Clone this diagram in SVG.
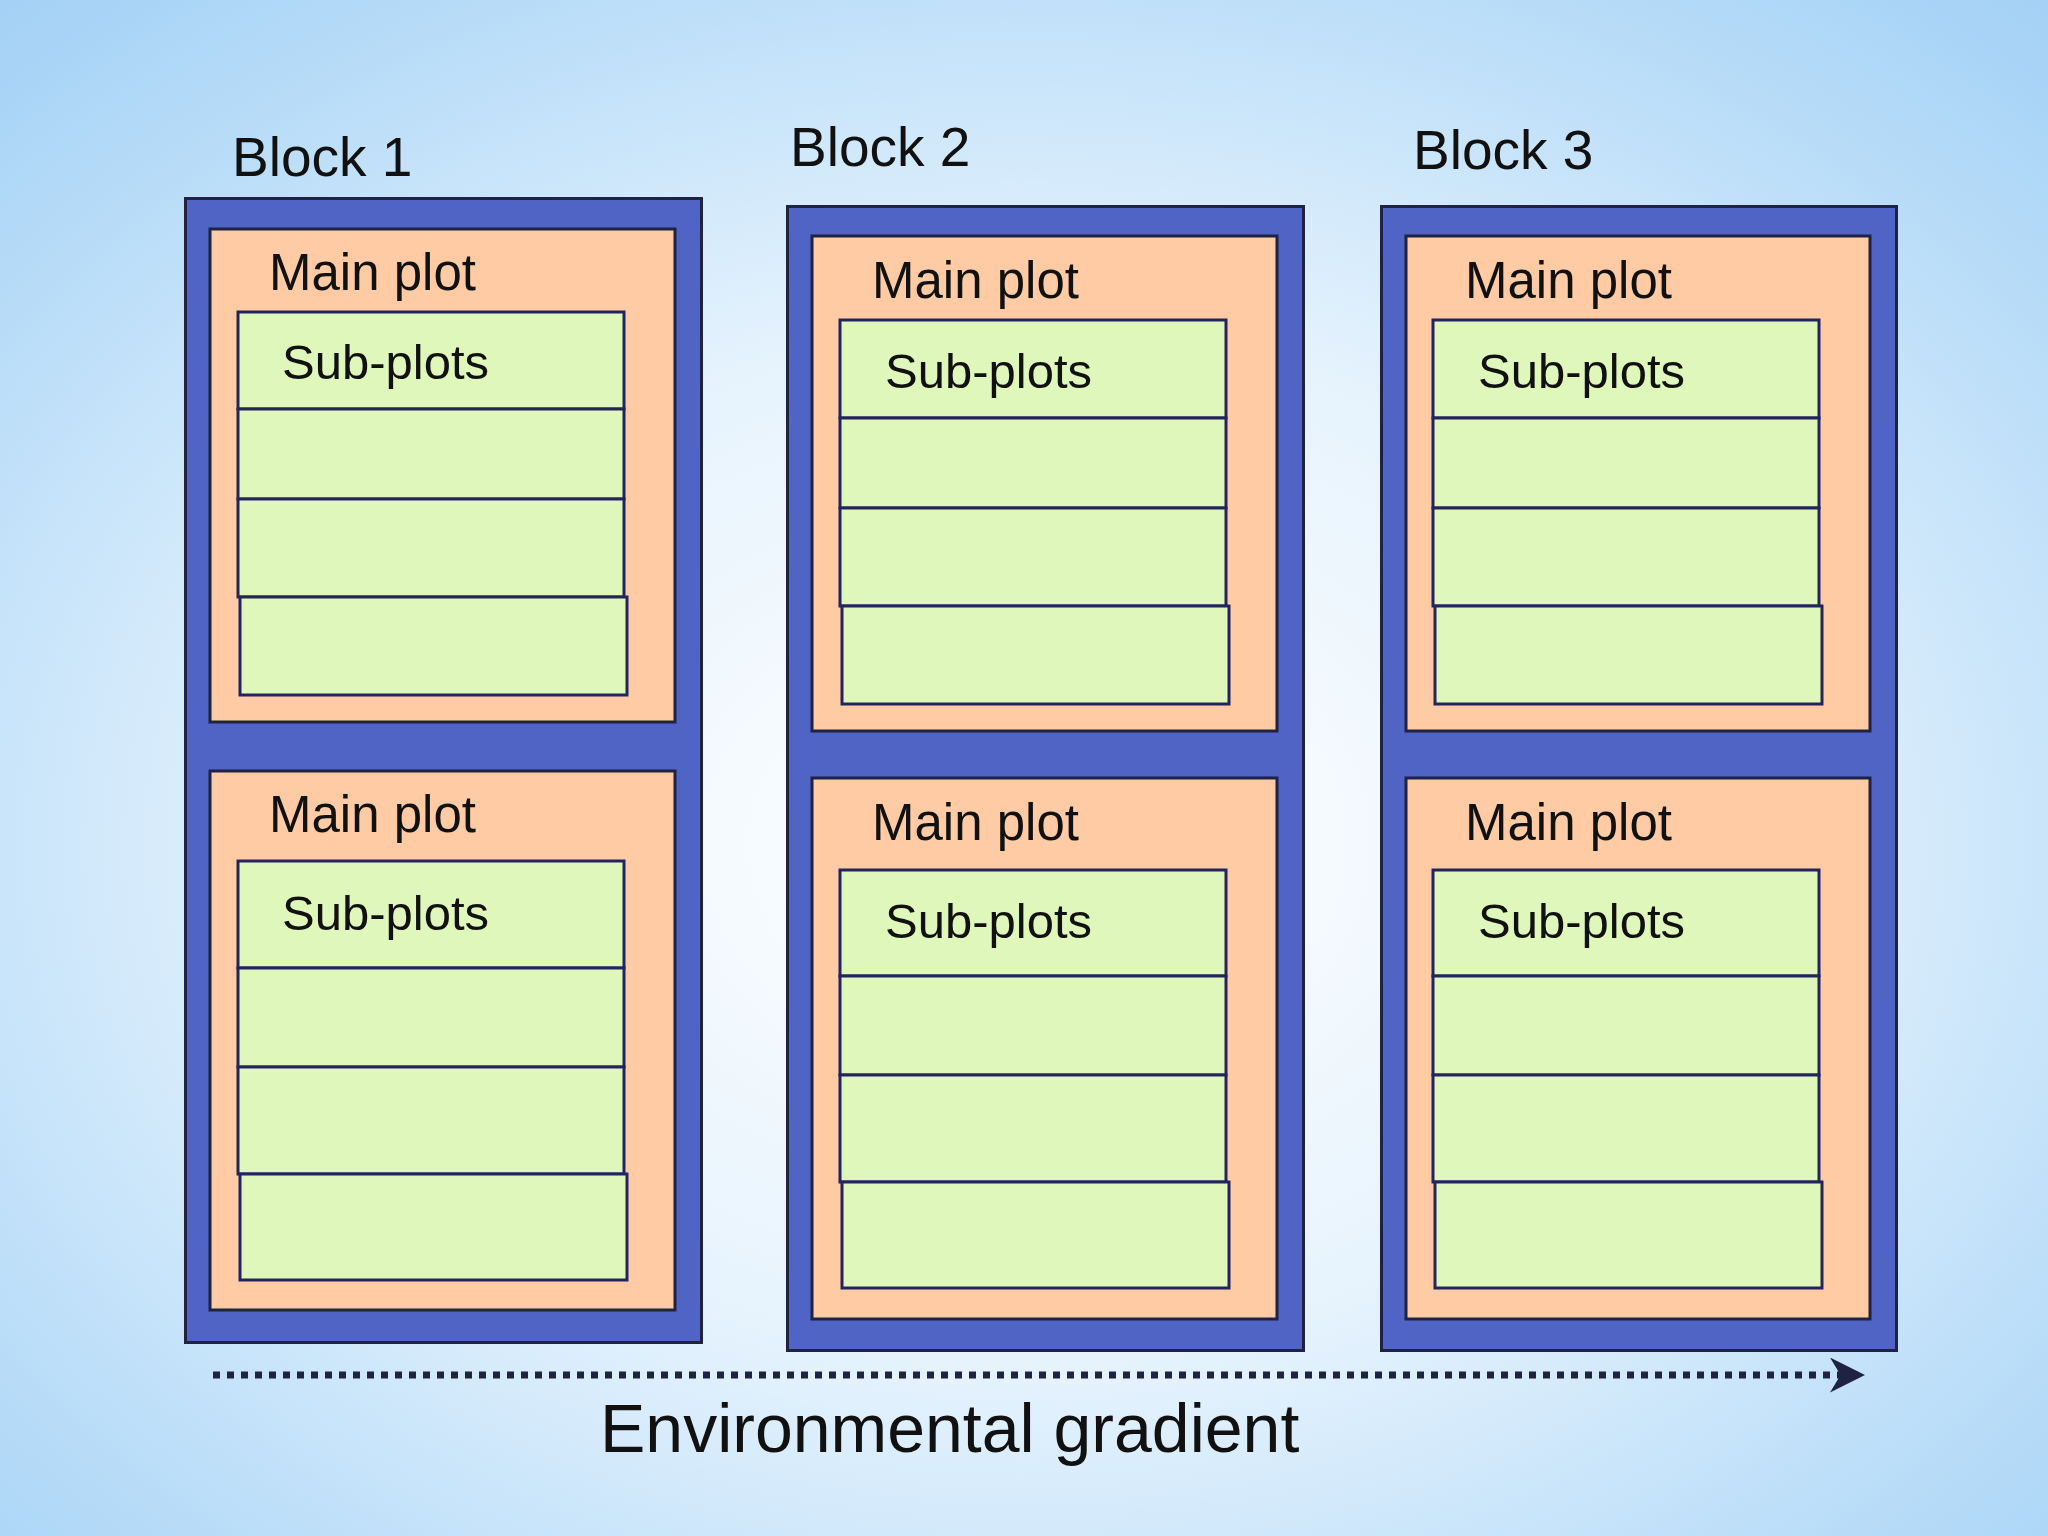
<svg xmlns="http://www.w3.org/2000/svg" width="2048" height="1536" viewBox="0 0 2048 1536">
<defs>
<radialGradient id="bg" cx="0.5" cy="0.55" r="0.75">
<stop offset="0" stop-color="#ffffff"/>
<stop offset="0.45" stop-color="#e6f3fd"/>
<stop offset="0.8" stop-color="#b8dcf8"/>
<stop offset="1" stop-color="#a2d0f5"/>
</radialGradient>
<marker id="ah" viewBox="0 0 10 10" refX="8" refY="5" markerWidth="5" markerHeight="5" orient="auto" markerUnits="strokeWidth">
<path d="M0,0 L10,5 L0,10 L3,5 Z" fill="#1f2240"/>
</marker>
<style>
.blk{fill:#4f64c4;stroke:#1f2240;stroke-width:3}
.mp{fill:#ffcba4;stroke:#1f2240;stroke-width:3}
.sp{fill:#e0f7bb;stroke:#23245e;stroke-width:3}
.t{font-family:"Liberation Sans",Arial,sans-serif;fill:#111}
.bt{font-size:55px}.mt{font-size:51px}.st{font-size:49px}
</style>
</defs>
<rect width="2048" height="1536" fill="url(#bg)"/>
<g id="block1">
<rect class="blk" x="185.5" y="198.5" width="516" height="1144"/>
<text class="t bt" x="232" y="176">Block 1</text>
<rect class="mp" x="210" y="229" width="465" height="493"/>
<text class="t mt" x="269" y="290">Main plot</text>
<rect class="sp" x="238" y="312" width="386" height="97"/>
<rect class="sp" x="238" y="409" width="386" height="90"/>
<rect class="sp" x="238" y="499" width="386" height="98"/>
<rect class="sp" x="240" y="597" width="387" height="98"/>
<text class="t st" x="282" y="379">Sub-plots</text>
<rect class="mp" x="210" y="771" width="465" height="539"/>
<text class="t mt" x="269" y="832">Main plot</text>
<rect class="sp" x="238" y="861" width="386" height="107"/>
<rect class="sp" x="238" y="968" width="386" height="99"/>
<rect class="sp" x="238" y="1067" width="386" height="107"/>
<rect class="sp" x="240" y="1174" width="387" height="106"/>
<text class="t st" x="282" y="930">Sub-plots</text>
</g>
<g id="block2">
<rect class="blk" x="787.5" y="206.5" width="516" height="1144"/>
<text class="t bt" x="790" y="166">Block 2</text>
<rect class="mp" x="812" y="236" width="465" height="495"/>
<text class="t mt" x="872" y="298">Main plot</text>
<rect class="sp" x="840" y="320" width="386" height="98"/>
<rect class="sp" x="840" y="418" width="386" height="90"/>
<rect class="sp" x="840" y="508" width="386" height="98"/>
<rect class="sp" x="842" y="606" width="387" height="98"/>
<text class="t st" x="885" y="388">Sub-plots</text>
<rect class="mp" x="812" y="778" width="465" height="541"/>
<text class="t mt" x="872" y="840">Main plot</text>
<rect class="sp" x="840" y="870" width="386" height="106"/>
<rect class="sp" x="840" y="976" width="386" height="99"/>
<rect class="sp" x="840" y="1075" width="386" height="107"/>
<rect class="sp" x="842" y="1182" width="387" height="106"/>
<text class="t st" x="885" y="938">Sub-plots</text>
</g>
<g id="block3">
<rect class="blk" x="1381.5" y="206.5" width="515" height="1144"/>
<text class="t bt" x="1413" y="169">Block 3</text>
<rect class="mp" x="1406" y="236" width="464" height="495"/>
<text class="t mt" x="1465" y="298">Main plot</text>
<rect class="sp" x="1433" y="320" width="386" height="98"/>
<rect class="sp" x="1433" y="418" width="386" height="90"/>
<rect class="sp" x="1433" y="508" width="386" height="98"/>
<rect class="sp" x="1435" y="606" width="387" height="98"/>
<text class="t st" x="1478" y="388">Sub-plots</text>
<rect class="mp" x="1406" y="778" width="464" height="541"/>
<text class="t mt" x="1465" y="840">Main plot</text>
<rect class="sp" x="1433" y="870" width="386" height="106"/>
<rect class="sp" x="1433" y="976" width="386" height="99"/>
<rect class="sp" x="1433" y="1075" width="386" height="107"/>
<rect class="sp" x="1435" y="1182" width="387" height="106"/>
<text class="t st" x="1478" y="938">Sub-plots</text>
</g>
<g id="connectors">
<line x1="213" y1="1375" x2="1858" y2="1375" stroke="#1f2240" stroke-width="7" stroke-dasharray="7 7" marker-end="url(#ah)"/>
<text class="t" x="600" y="1452" font-size="68">Environmental gradient</text>
</g>
</svg>
